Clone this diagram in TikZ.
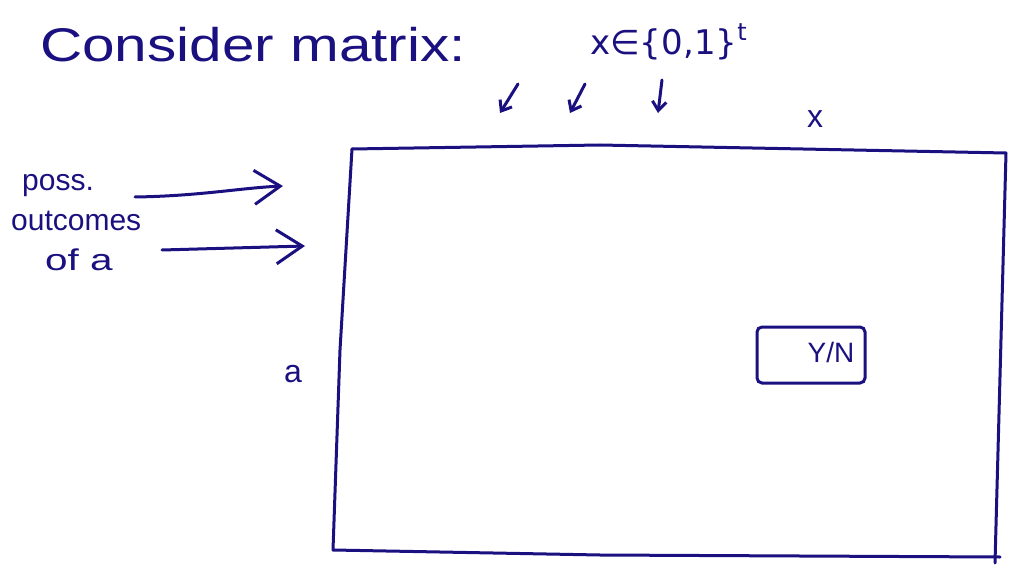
\documentclass[tikz,border=0pt]{standalone}
\usepackage{fontspec}
\setmainfont{Liberation Sans}
\newfontfamily\dejavu{DejaVu Sans}
\usetikzlibrary{arrows.meta}
\definecolor{ink}{HTML}{1A1080}
\tikzset{
  pen/.style={draw=ink, line width=3pt, line cap=round, line join=round},
  bigarrow/.style={pen, -{Straight Barb[length=26pt,width=34pt,line width=3pt]}},
  smallarrow/.style={pen, -{Straight Barb[length=9pt,width=14pt,line width=3pt]}},
  txt/.style={text=ink, inner sep=0pt, anchor=base west}
}
\begin{document}
\begin{tikzpicture}[x=1pt,y=-1pt]
\useasboundingbox (0,0) rectangle (1010,567);
% title
\node[txt] (title) at (40,62) {\scalebox{1.3}[1.05]{\fontsize{45}{50}\selectfont Consider matrix:}};
\node[txt] (xset) at (590,55) {\dejavu\fontsize{34}{38}\selectfont x∈\{0,1\}\raisebox{14pt}{\fontsize{24}{28}\selectfont t}};
% small arrows
\coordinate (s1a) at (518,84); \coordinate (s1b) at (500,113);
\coordinate (s2a) at (585,84); \coordinate (s2b) at (570,113);
\coordinate (s3a) at (662,80); \coordinate (s3b) at (658,113);
\draw[smallarrow] (s1a) -- (s1b);
\draw[smallarrow] (s2a) -- (s2b);
\draw[smallarrow] (s3a) -- (s3b);
\node[txt] (xlab) at (807,128) {\fontsize{32}{36}\selectfont x};
% matrix box
\coordinate (tl) at (352,149);
\coordinate (tr) at (1006,153);
\coordinate (br) at (995,563);
\coordinate (bl) at (333,550);
\draw[pen] (tl) -- (600,145) -- (tr) -- (br);
\draw[pen] (tl) -- (340,350) -- (bl) -- (600,555) -- (1000,557);
% left text
\node[txt] (poss) at (22,190) {\fontsize{30}{34}\selectfont poss.};
\node[txt] (outc) at (11,230) {\fontsize{30}{34}\selectfont outcomes};
\node[txt] (ofa) at (45,270) {\scalebox{1.35}[1]{\fontsize{30}{34}\selectfont of a}};
\coordinate (a1s) at (135,197); \coordinate (a1e) at (283,186);
\coordinate (a2s) at (162,250); \coordinate (a2e) at (305,246);
\draw[bigarrow] (a1s) .. controls (200,196) and (240,188) .. (a1e);
\draw[bigarrow] (a2s) -- (a2e);
\node[txt] (alab) at (284,382) {\fontsize{32}{36}\selectfont a};
% Y/N box
\node[draw=ink, line width=3pt, rounded corners=5pt, minimum width=108pt, minimum height=56pt, inner sep=0pt] (yn) at (811,355) {};
\node[text=ink, inner sep=0pt] (yntext) at (831,352) {\fontsize{28}{32}\selectfont Y/N};
\end{tikzpicture}
\end{document}
